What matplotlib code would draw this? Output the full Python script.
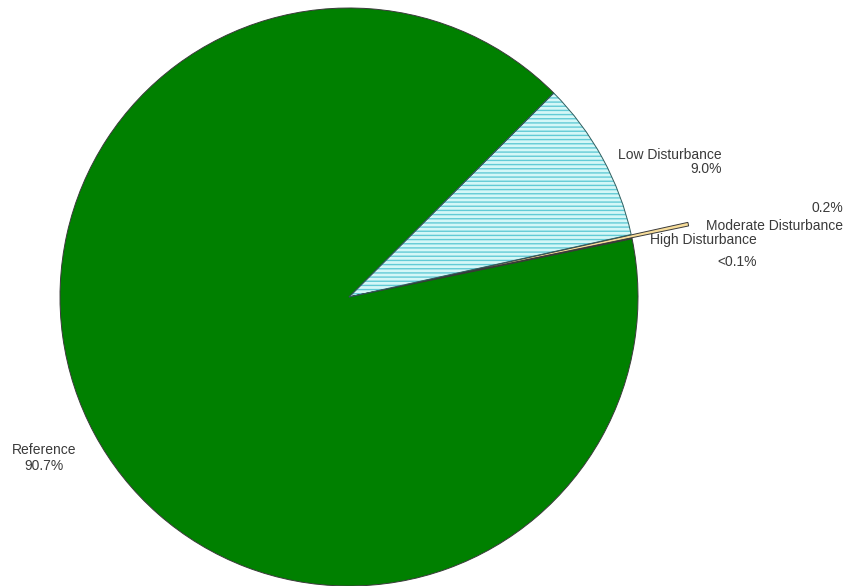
import matplotlib
matplotlib.use("Agg")
import matplotlib.pyplot as plt
from matplotlib.patches import Wedge

# condition classes, clockwise from the top-right boundary
categories = ["Low Disturbance", "Moderate Disturbance", "High Disturbance", "Reference"]
shares = [9.0, 0.2, 0.04, 90.7]
share_labels = ["9.0%", "0.2%", "<0.1%", "90.7%"]

fig = plt.figure(figsize=(8.49, 5.86), dpi=100)
ax = fig.add_axes([0, 0, 1, 1])
ax.set_xlim(0, 849)
ax.set_ylim(0, 586)
ax.set_aspect("equal")

plt.rcParams["hatch.linewidth"] = 1.0

wedges, _ = ax.pie(
    shares,
    center=(349, 289),
    radius=289,
    startangle=44.9,
    counterclock=False,
    explode=[0, 58, 0, 0],
    colors=["#d4f7f7", "#f7dd9a", "#c89a50", "#008000"],
    wedgeprops=dict(edgecolor="#3a3a3a", linewidth=0.7),
    frame=True,
)
ax.axis("off")

# hatch lines take the edge colour, so hatch in cyan and redraw the outline on top
low = wedges[0]
low.set_hatch("----")
low.set_edgecolor("#62cbd6")
low.set_linewidth(0)
ax.add_patch(Wedge(low.center, low.r, low.theta1, low.theta2, fill=False,
                   edgecolor="#2f5f60", linewidth=0.7, zorder=low.get_zorder() + 0.1))

txt = dict(fontsize=10, color="#3a3a3a", family="Liberation Sans")
ax.text(722, 586 - 162, categories[0] + "\n" + share_labels[0], ha="right", va="center",
        linespacing=1.0, **txt)
ax.text(843, 586 - 217, share_labels[1] + "\n" + categories[1], ha="right", va="center",
        linespacing=1.3, **txt)
ax.text(650, 586 - 240, categories[2], ha="left", va="center", **txt)
ax.text(757, 586 - 262, share_labels[2], ha="right", va="center", **txt)
ax.text(44, 586 - 458, categories[3] + "\n" + share_labels[3], ha="center", va="center",
        linespacing=1.1, **txt)

fig.savefig("out.png", dpi=100)
plt.close(fig)
